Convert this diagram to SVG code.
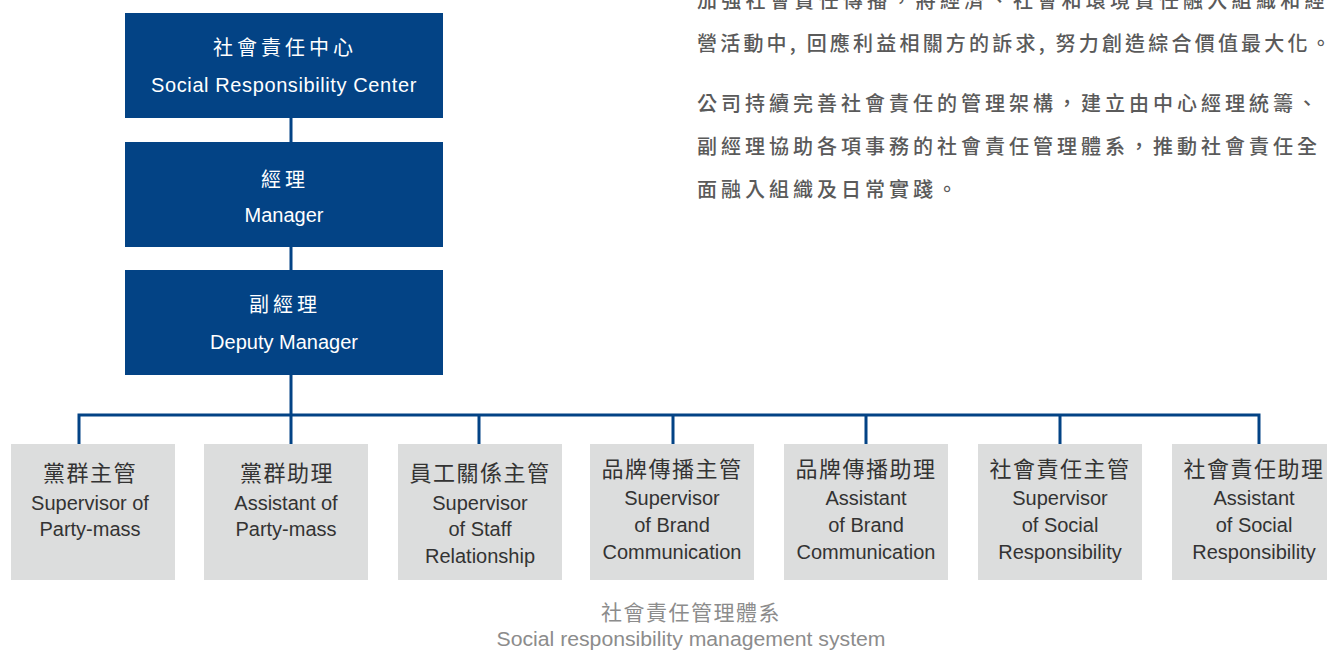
<svg xmlns="http://www.w3.org/2000/svg" width="1327" height="650" viewBox="0 0 1327 650">
<style>
.top rect{fill:#034385}
.top text{fill:#ffffff;text-anchor:middle;font-family:"Liberation Sans","Noto Sans CJK TC",sans-serif}
.zh{font-size:20px;letter-spacing:4px}
.en{font-size:20px}
.bot rect{fill:#dcdddd}
.bot text{fill:#333333;text-anchor:middle;font-family:"Liberation Sans","Noto Sans CJK TC",sans-serif}
.bzh{font-size:22px;letter-spacing:1.5px}
.ben{font-size:20px}
.para{fill:#5a5a5a;font-family:"Noto Sans CJK TC","Liberation Sans",sans-serif;font-size:20px;font-weight:500}
.cap{fill:#8c8c8c;text-anchor:middle;font-family:"Liberation Sans","Noto Sans CJK TC",sans-serif}
.conn{stroke:#034385;stroke-width:3;fill:none}
</style>
<rect width="1327" height="650" fill="#ffffff"/>
<g id="connectors" class="conn">
<path d="M291 118V142M291 247V270M291 375V415"/>
<path d="M79 444V415H1259V444"/>
<path d="M291 415V444M479 415V444M673 415V444M866 415V444M1060 415V444"/>
</g>
<g id="n-center" class="top"><rect x="125" y="13" width="318" height="105"/><text class="zh" x="285" y="55">社會責任中心</text><text class="en" x="284" y="92" letter-spacing="0.6">Social Responsibility Center</text></g>
<g id="n-manager" class="top"><rect x="125" y="142" width="318" height="105"/><text class="zh" x="285" y="187">經理</text><text class="en" x="284" y="222">Manager</text></g>
<g id="n-deputy" class="top"><rect x="125" y="270" width="318" height="105"/><text class="zh" x="285" y="312">副經理</text><text class="en" x="284" y="349">Deputy Manager</text></g>
<g id="n-b1" class="bot"><rect x="11" y="444" width="164" height="136"/><text class="bzh" x="90" y="481">黨群主管</text><text class="ben" x="90" y="510">Supervisor of</text><text class="ben" x="90" y="536">Party-mass</text></g>
<g id="n-b2" class="bot"><rect x="204" y="444" width="164" height="136"/><text class="bzh" x="287" y="481">黨群助理</text><text class="ben" x="286" y="510">Assistant of</text><text class="ben" x="286" y="536">Party-mass</text></g>
<g id="n-b3" class="bot"><rect x="398" y="444" width="164" height="136"/><text class="bzh" x="480" y="481">員工關係主管</text><text class="ben" x="480" y="510">Supervisor</text><text class="ben" x="480" y="536">of Staff</text><text class="ben" x="480" y="563">Relationship</text></g>
<g id="n-b4" class="bot"><rect x="590" y="444" width="164" height="136"/><text class="bzh" x="672" y="477">品牌傳播主管</text><text class="ben" x="672" y="505">Supervisor</text><text class="ben" x="672" y="532">of Brand</text><text class="ben" x="672" y="559">Communication</text></g>
<g id="n-b5" class="bot"><rect x="784" y="444" width="164" height="136"/><text class="bzh" x="866" y="477">品牌傳播助理</text><text class="ben" x="866" y="505">Assistant</text><text class="ben" x="866" y="532">of Brand</text><text class="ben" x="866" y="559">Communication</text></g>
<g id="n-b6" class="bot"><rect x="978" y="444" width="164" height="136"/><text class="bzh" x="1060" y="477">社會責任主管</text><text class="ben" x="1060" y="505">Supervisor</text><text class="ben" x="1060" y="532">of Social</text><text class="ben" x="1060" y="559">Responsibility</text></g>
<g id="n-b7" class="bot"><rect x="1172" y="444" width="164" height="136"/><text class="bzh" x="1254" y="477">社會責任助理</text><text class="ben" x="1254" y="505">Assistant</text><text class="ben" x="1254" y="532">of Social</text><text class="ben" x="1254" y="559">Responsibility</text></g>
<g id="caption" class="cap"><text x="691" y="620" font-size="21" letter-spacing="1.5">社會責任管理體系</text><text x="691" y="646" font-size="20" textLength="389" lengthAdjust="spacingAndGlyphs">Social responsibility management system</text></g>
<g id="paragraph" class="para">
<text x="697" y="8" letter-spacing="4.3">加強社會責任傳播，將經濟、社會和環境責任融入組織和經</text>
<text x="697" y="51" letter-spacing="3.2">營活動中, 回應利益相關方的訴求, 努力創造綜合價值最大化。</text>
<text x="697" y="111" letter-spacing="4">公司持續完善社會責任的管理架構，建立由中心經理統籌、</text>
<text x="697" y="154" letter-spacing="4">副經理協助各項事務的社會責任管理體系，推動社會責任全</text>
<text x="697" y="197" letter-spacing="4">面融入組織及日常實踐。</text>
</g>
</svg>
